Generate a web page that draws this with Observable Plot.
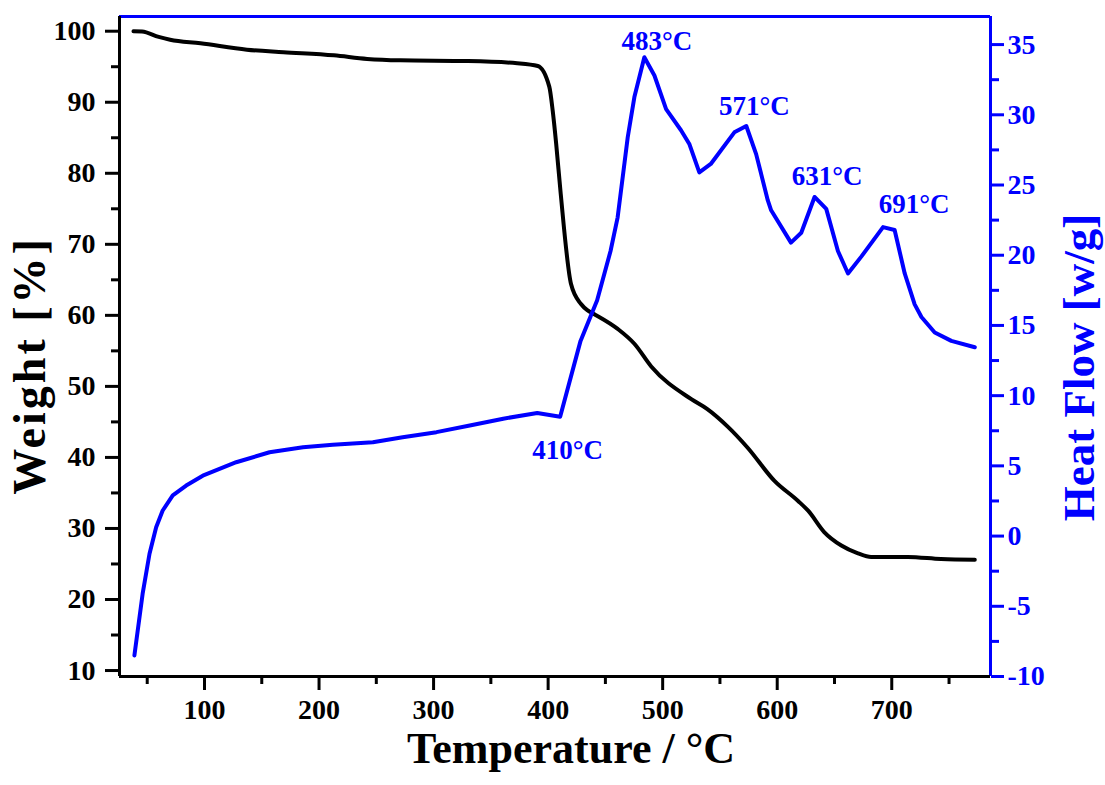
<!DOCTYPE html>
<html>
<head>
<meta charset="utf-8">
<script src="https://cdn.jsdelivr.net/npm/d3@7"></script>
<script src="https://cdn.jsdelivr.net/npm/@observablehq/plot@0.6"></script>
<style>
  html, body { margin: 0; padding: 0; background: #fff; }
  #chart svg { display: block; }
</style>
</head>
<body>
<div id="chart"></div>
<script>
// ---- Weight (TGA) curve ----
const weightTemp = [38, 45.5, 60, 70, 96.5, 137, 169, 213, 242, 271, 330, 373, 391, 401, 404, 407, 411, 420, 428.7, 434.5, 440, 460.7, 475.3, 490, 525, 539, 557, 574, 597.6, 618, 627, 641, 656, 670.5, 682, 714, 743, 772.5];
const weightPct  = [100, 99.96, 99.2, 98.8, 98.3, 97.4, 97.05, 96.6, 96.1, 95.9, 95.8, 95.5, 95.1, 92.2, 88.8, 84.2, 77.1, 64.4, 61.6, 60.7, 60.2, 58.1, 56.0, 52.8, 48.2, 46.8, 44.3, 41.4, 36.7, 33.9, 32.5, 29.5, 27.6, 26.5, 26.0, 26.0, 25.7, 25.6];

// ---- Heat flow (DSC) curve ----
const heatTemp = [38.8, 46, 52, 57.8, 63.5, 72.3, 84, 98.5, 127.7, 156.8, 186, 212, 247, 273, 302.5, 331.6, 360.8, 390.5, 410.5, 428.3, 442.8, 454.5, 460.7, 469.5, 475.3, 484, 492.8, 503, 516, 523.4, 532, 542, 562.6, 573, 581.6, 591.8, 594.7, 612, 621, 632.6, 642.8, 653, 661.8, 673.4, 692.4, 702.5, 711.3, 720, 725.9, 737.5, 752, 772.5];
const heatFlow = [-8.5, -4.1, -1.26, 0.63, 1.82, 2.9, 3.6, 4.3, 5.26, 5.97, 6.33, 6.5, 6.68, 7.04, 7.4, 7.88, 8.36, 8.77, 8.5, 13.9, 16.8, 20.3, 22.7, 28.4, 31.26, 34.1, 32.8, 30.4, 28.9, 27.9, 25.9, 26.5, 28.75, 29.2, 27.2, 23.9, 23.2, 20.9, 21.6, 24.15, 23.3, 20.3, 18.7, 19.9, 22.0, 21.8, 18.7, 16.5, 15.6, 14.5, 13.9, 13.45];

// ---- Peak annotations ----
const peakLabels = ["410°C", "483°C", "571°C", "631°C", "691°C"];
const peakLabelTemp = [417, 495, 580, 643.5, 719.5];
const peakLabelHeat = [5.5, 34.6, 30.0, 25.0, 23.0];

// ---- Ticks ----
const tempTicks = [100, 200, 300, 400, 500, 600, 700];
const tempMinor = [50, 150, 250, 350, 450, 550, 650, 750];
const weightTicks = [10, 20, 30, 40, 50, 60, 70, 80, 90, 100];
const weightMinor = [15, 25, 35, 45, 55, 65, 75, 85, 95];
const heatTicks = [-10, -5, 0, 5, 10, 15, 20, 25, 30, 35];
const heatMinor = [-7.5, -2.5, 2.5, 7.5, 12.5, 17.5, 22.5, 27.5, 32.5];

// scale domains
const xDomain = [25.8, 786.2];
const wDomain = [9.16, 102.07];
const hDomain = [-10, 37];
const toW = h => wDomain[0] + (h - hDomain[0]) * (wDomain[1] - wDomain[0]) / (hDomain[1] - hDomain[0]);
const toH = w => hDomain[0] + (w - wDomain[0]) * (hDomain[1] - hDomain[0]) / (wDomain[1] - wDomain[0]);

const BLUE = "#0000ff";
const FONT = "'Liberation Serif', 'Times New Roman', serif";

const weightData = weightTemp.map((t, i) => ({t, w: weightPct[i]}));
const heatData = heatTemp.map((t, i) => ({t, w: toW(heatFlow[i])}));
const peakData = peakLabels.map((s, i) => ({s, t: peakLabelTemp[i], w: toW(peakLabelHeat[i])}));

const chart = Plot.plot({
  width: 1105,
  height: 785,
  marginLeft: 119,
  marginRight: 115,
  marginTop: 16,
  marginBottom: 109,
  style: {fontFamily: FONT, background: "#fff", color: "#000"},
  x: {domain: xDomain},
  y: {domain: wDomain},
  marks: [
    // axes frame
    Plot.ruleY([wDomain[1]], {stroke: BLUE, strokeWidth: 3}),
    Plot.ruleX([xDomain[1]], {stroke: BLUE, strokeWidth: 3}),
    Plot.ruleY([wDomain[0]], {stroke: "#000", strokeWidth: 3}),
    Plot.ruleX([xDomain[0]], {stroke: "#000", strokeWidth: 3}),
    // bottom axis
    Plot.axisX(tempTicks, {anchor: "bottom", tickSize: 14, tickPadding: 9, strokeWidth: 3, fontSize: 28, fontWeight: "bold", label: null}),
    Plot.axisX(tempMinor, {anchor: "bottom", tickSize: 8, strokeWidth: 3, tickFormat: () => "", label: null}),
    // left axis
    Plot.axisY(weightTicks, {anchor: "left", tickSize: 14, tickPadding: 10, strokeWidth: 3, fontSize: 28, fontWeight: "bold", label: null}),
    Plot.axisY(weightMinor, {anchor: "left", tickSize: 8, strokeWidth: 3, tickFormat: () => "", label: null}),
    // right axis (heat flow)
    Plot.axisY(heatTicks.map(toW), {anchor: "right", color: BLUE, tickSize: 13, tickPadding: 4, strokeWidth: 3, fontSize: 28, fontWeight: "bold", label: null, tickFormat: w => String(Math.round(toH(w)))}),
    Plot.axisY(heatMinor.map(toW), {anchor: "right", color: BLUE, tickSize: 8, strokeWidth: 3, tickFormat: () => "", label: null}),
    // curves
    Plot.line(weightData, {x: "t", y: "w", stroke: "#000", strokeWidth: 4, curve: "monotone-x"}),
    Plot.line(heatData, {x: "t", y: "w", stroke: BLUE, strokeWidth: 4}),
    // peak labels
    Plot.text(peakData, {x: "t", y: "w", text: "s", fill: BLUE, fontSize: 27, fontWeight: "bold", lineAnchor: "bottom"}),
    // axis titles
    Plot.text(["Temperature / °C"], {frameAnchor: "bottom", textAnchor: "middle", dx: 16, dy: 86, fontSize: 44, fontWeight: "bold", fill: "#000"}),
    Plot.text(["Weight [%]"], {frameAnchor: "left", textAnchor: "middle", dx: -89, dy: 19, rotate: -90, fontSize: 46, fontWeight: "bold", fill: "#000", className: "weight-title"}),
    Plot.text(["Heat Flow [w/g]"], {frameAnchor: "right", textAnchor: "middle", dx: 89, dy: 21, rotate: -90, fontSize: 45, fontWeight: "bold", fill: BLUE})
  ]
});
document.getElementById("chart").appendChild(chart);
// widen the left title slightly, as in the reference
d3.select(chart).selectAll(".weight-title text").style("letter-spacing", "3px");
</script>
</body>
</html>
